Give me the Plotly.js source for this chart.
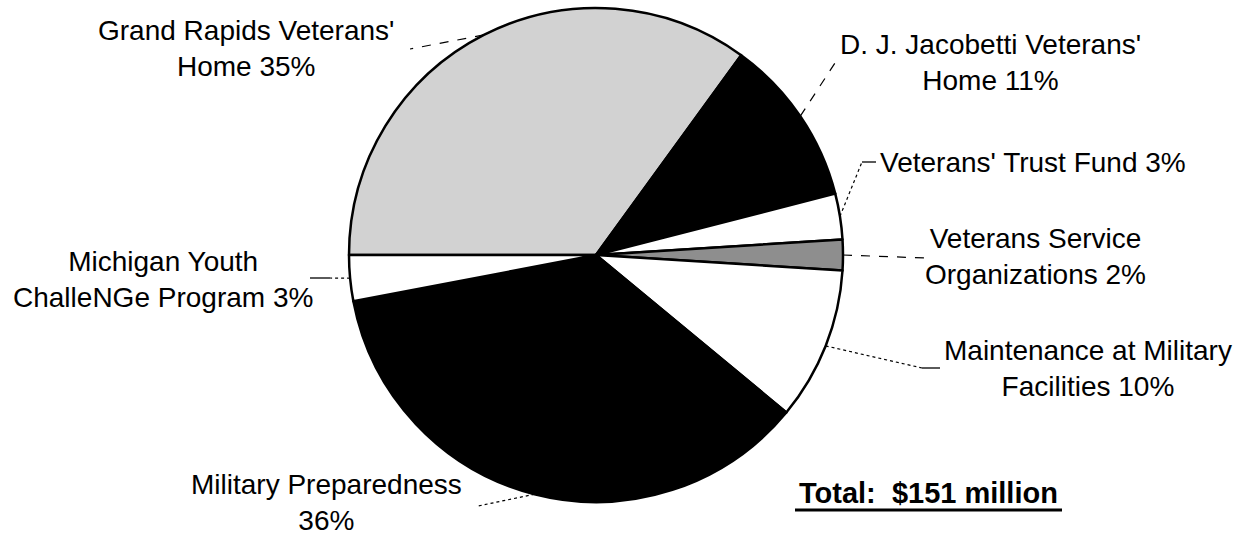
<!DOCTYPE html>
<html>
<head>
<meta charset="utf-8">
<script src="https://cdn.plot.ly/plotly-3.0.1.min.js"></script>
<style>html,body{margin:0;padding:0;background:#fff;}#chart{width:1238px;height:536px;}</style>
</head>
<body>
<div id="chart"></div>
<script>
// ---- data ----
const categories = [
  "Grand Rapids Veterans' Home",
  "D. J. Jacobetti Veterans' Home",
  "Veterans' Trust Fund",
  "Veterans Service Organizations",
  "Maintenance at Military Facilities",
  "Military Preparedness",
  "Michigan Youth ChalleNGe Program"
];
const shares = [35, 11, 3, 2, 10, 36, 3];
const labelNames = [
  "Grand Rapids Veterans'<br>Home",
  "D. J. Jacobetti Veterans'<br>Home",
  "Veterans' Trust Fund",
  "Veterans Service<br>Organizations",
  "Maintenance at Military<br>Facilities",
  "Military Preparedness",
  "Michigan Youth<br>ChalleNGe Program"
];
const labelSep = [" ", " ", " ", " ", " ", "<br>", " "];
const totalText = "Total:\u00a0\u00a0$151 million";

// ---- styling / layout ----
const W = 1238, H = 536;
const cx = 596, cy = 255, R = 247;
const fills = ['#d2d2d2', '#000000', '#ffffff', '#8e8e8e', '#ffffff', '#000000', '#ffffff'];
const FONT = 'Liberation Sans, Arial, Helvetica, sans-serif';
const rotationDeg = 270;

// label placement (pixels)
const labelPos = [
  {x: 246, y: 48, anchor: 'center'},
  {x: 990, y: 63, anchor: 'center'},
  {x: 878, y: 162, anchor: 'left'},
  {x: 1035, y: 256, anchor: 'center'},
  {x: 1088, y: 368, anchor: 'center'},
  {x: 326, y: 502, anchor: 'center'},
  {x: 163, y: 279, anchor: 'center'}
];
// leader: end of dashed part, optional solid tail end
const leaders = [
  {to: [410, 49], dash: 'dash'},
  {to: [835, 63], dash: 'dash'},
  {to: [862, 162], dash: 'dot', tail: [876, 162]},
  {to: [925, 258], dash: 'dash'},
  {to: [922, 368], dash: 'dot', tail: [940, 368]},
  {to: [478, 506], dash: 'dot'},
  {to: [330, 278], dash: 'dot', tail: [310, 278]}
];

const px = x => x / W;
const py = y => 1 - y / H;

// mid-angle of each slice (clockwise from 12 o'clock)
const total = shares.reduce((a, b) => a + b, 0);
let acc = 0;
const midAngles = shares.map(v => {
  const a = rotationDeg + (acc + v / 2) / total * 360;
  acc += v;
  return a * Math.PI / 180;
});

const shapes = [];
const annotations = [];
midAngles.forEach((ang, i) => {
  const ex = cx + R * Math.sin(ang);
  const ey = cy - R * Math.cos(ang);
  const L = leaders[i];
  shapes.push({type: 'line', xref: 'paper', yref: 'paper',
    x0: px(ex), y0: py(ey), x1: px(L.to[0]), y1: py(L.to[1]),
    line: {color: '#000', width: 1.2, dash: L.dash}});
  if (L.tail) {
    shapes.push({type: 'line', xref: 'paper', yref: 'paper',
      x0: px(L.to[0]), y0: py(L.to[1]), x1: px(L.tail[0]), y1: py(L.tail[1]),
      line: {color: '#000', width: 1.3}});
  }
  const P = labelPos[i];
  annotations.push({
    xref: 'paper', yref: 'paper', x: px(P.x), y: py(P.y),
    xanchor: P.anchor, yanchor: 'middle', align: 'center', showarrow: false,
    text: labelNames[i] + labelSep[i] + shares[i] + '%',
    font: {family: FONT, size: 28, color: '#000'}
  });
});

annotations.push({
  xref: 'paper', yref: 'paper', x: px(928), y: py(493),
  xanchor: 'center', yanchor: 'middle', showarrow: false,
  text: '<b>' + totalText + '</b>',
  font: {family: FONT, size: 29, color: '#000'}
});
shapes.push({type: 'line', xref: 'paper', yref: 'paper',
  x0: px(795), y0: py(510), x1: px(1062), y1: py(510),
  line: {color: '#000', width: 3}});

const trace = {
  type: 'pie',
  labels: categories,
  values: shares,
  sort: false,
  direction: 'clockwise',
  rotation: rotationDeg,
  textinfo: 'none',
  hoverinfo: 'skip',
  showlegend: false,
  marker: {colors: fills, line: {color: '#000', width: 2.5}},
  domain: {x: [px(cx - R), px(cx + R)], y: [py(cy + R), py(cy - R)]}
};

Plotly.newPlot('chart', [trace], {
  width: W, height: H,
  margin: {l: 0, r: 0, t: 0, b: 0},
  paper_bgcolor: '#fff',
  showlegend: false,
  shapes: shapes,
  annotations: annotations
}, {staticPlot: true});
</script>
</body>
</html>
